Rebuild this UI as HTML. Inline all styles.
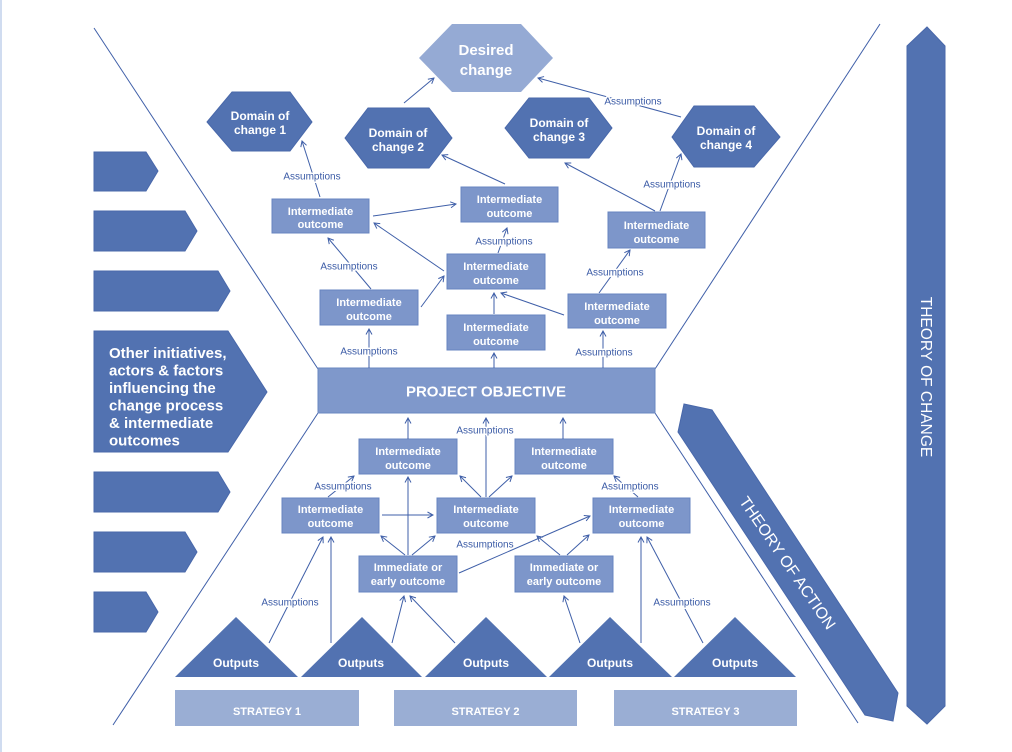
<!DOCTYPE html>
<html><head><meta charset="utf-8"><style>
html,body{margin:0;padding:0;background:#fff;}
svg{display:block;}
text{font-family:"Liberation Sans",Arial,sans-serif;}
.w{fill:#fff;font-weight:bold;text-anchor:middle;}
.as{fill:#3b5ba6;font-size:10px;text-anchor:middle;stroke:#fff;stroke-width:3px;paint-order:stroke;stroke-linejoin:round;}
.ln{stroke:#3f5fa8;stroke-width:1;fill:none;}
.bx{fill:#7d96ca;stroke:#6784c0;stroke-width:1;}
.dk{fill:#5272b1;stroke:#4968aa;stroke-width:1;}
</style></head><body>
<svg width="1012" height="752" viewBox="0 0 1012 752" xmlns="http://www.w3.org/2000/svg">
<defs>
<marker id="a" markerWidth="8" markerHeight="8" refX="7" refY="4" orient="auto" markerUnits="userSpaceOnUse"><path d="M1.5,1 L7,4 L1.5,7" fill="none" stroke="#3f5fa8" stroke-width="1"/></marker>
</defs>
<rect x="0" y="0" width="2" height="752" fill="#d0dcf0"/>

<!-- diagonal lines -->
<line class="ln" x1="94" y1="28" x2="318" y2="369"/>
<line class="ln" x1="318" y1="413" x2="113" y2="725"/>
<line class="ln" x1="880" y1="24" x2="655" y2="369"/>
<line class="ln" x1="655" y1="413" x2="858" y2="723"/>

<!-- left chevrons -->
<polygon class="dk" points="94,152 146,152 158,171 146,191 94,191"/>
<polygon class="dk" points="94,211 185,211 197,231 185,251 94,251"/>
<polygon class="dk" points="94,271 218,271 230,291 218,311 94,311"/>
<polygon class="dk" points="94,331 228,331 267,392 228,452 94,452"/>
<polygon class="dk" points="94,472 218,472 230,492 218,512 94,512"/>
<polygon class="dk" points="94,532 185,532 197,552 185,572 94,572"/>
<polygon class="dk" points="94,592 146,592 158,612 146,632 94,632"/>
<g fill="#fff" font-weight="bold" font-size="15">
<text x="109" y="358">Other initiatives,</text>
<text x="109" y="375.5">actors &amp; factors</text>
<text x="109" y="393">influencing  the</text>
<text x="109" y="410.5">change process</text>
<text x="109" y="428">&amp; intermediate</text>
<text x="109" y="445.5">outcomes</text>
</g>

<!-- Theory of change arrow -->
<polygon class="dk" points="907,46 927,27 945,46 945,706 927,724 907,706"/>
<text x="0" y="0" fill="#fff" font-size="15.5" text-anchor="middle" transform="translate(921,377) rotate(90)">THEORY OF CHANGE</text>

<!-- Theory of action band -->
<polygon class="dk" points="684,404 712,410 898,693 893,721 865,715 678,432"/>
<text x="0" y="0" fill="#fff" font-size="16" text-anchor="middle" transform="translate(783,566) rotate(55.5)">THEORY OF ACTION</text>

<!-- hexagons -->
<polygon points="419,58 452,24 521,24 553,58 521,92 452,92" fill="#95aad4"/>
<text class="w" x="486" y="55" font-size="15">Desired</text>
<text class="w" x="486" y="75" font-size="15">change</text>

<polygon class="dk" points="207,122 232,92 290,92 312,122 290,151 232,151"/>
<text class="w" x="260" y="120" font-size="12">Domain of</text>
<text class="w" x="260" y="134" font-size="12">change 1</text>

<polygon class="dk" points="345,138 368,108 429,108 452,138 429,168 368,168"/>
<text class="w" x="398" y="137" font-size="12">Domain of</text>
<text class="w" x="398" y="151" font-size="12">change 2</text>

<polygon class="dk" points="505,128 529,98 589,98 612,128 589,158 529,158"/>
<text class="w" x="559" y="127" font-size="12">Domain of</text>
<text class="w" x="559" y="141" font-size="12">change 3</text>

<polygon class="dk" points="672,137 694,106 754,106 780,137 754,167 694,167"/>
<text class="w" x="726" y="135" font-size="12">Domain of</text>
<text class="w" x="726" y="149" font-size="12">change 4</text>

<!-- upper boxes -->
<g font-size="11">
<rect class="bx" x="272" y="199" width="97" height="34"/>
<text class="w" x="320.5" y="215">Intermediate</text><text class="w" x="320.5" y="228">outcome</text>
<rect class="bx" x="461" y="187" width="97" height="35"/>
<text class="w" x="509.5" y="203">Intermediate</text><text class="w" x="509.5" y="217">outcome</text>
<rect class="bx" x="608" y="212" width="97" height="36"/>
<text class="w" x="656.5" y="229">Intermediate</text><text class="w" x="656.5" y="243">outcome</text>
<rect class="bx" x="447" y="254" width="98" height="35"/>
<text class="w" x="496" y="270">Intermediate</text><text class="w" x="496" y="284">outcome</text>
<rect class="bx" x="320" y="290" width="98" height="35"/>
<text class="w" x="369" y="306">Intermediate</text><text class="w" x="369" y="320">outcome</text>
<rect class="bx" x="447" y="315" width="98" height="35"/>
<text class="w" x="496" y="331">Intermediate</text><text class="w" x="496" y="345">outcome</text>
<rect class="bx" x="568" y="294" width="98" height="34"/>
<text class="w" x="617" y="310">Intermediate</text><text class="w" x="617" y="324">outcome</text>
</g>

<!-- project objective -->
<rect x="318" y="368" width="337" height="45" fill="#7f98cb" stroke="#6a87c2"/>
<text class="w" x="486" y="396.5" font-size="15">PROJECT OBJECTIVE</text>

<!-- lower boxes -->
<g font-size="11">
<rect class="bx" x="359" y="439" width="98" height="35"/>
<text class="w" x="408" y="455">Intermediate</text><text class="w" x="408" y="469">outcome</text>
<rect class="bx" x="515" y="439" width="98" height="35"/>
<text class="w" x="564" y="455">Intermediate</text><text class="w" x="564" y="469">outcome</text>
<rect class="bx" x="282" y="498" width="97" height="35"/>
<text class="w" x="330.5" y="513">Intermediate</text><text class="w" x="330.5" y="527">outcome</text>
<rect class="bx" x="437" y="498" width="98" height="35"/>
<text class="w" x="486" y="513">Intermediate</text><text class="w" x="486" y="527">outcome</text>
<rect class="bx" x="593" y="498" width="97" height="35"/>
<text class="w" x="641.5" y="513">Intermediate</text><text class="w" x="641.5" y="527">outcome</text>
<rect class="bx" x="359" y="556" width="98" height="36"/>
<text class="w" x="408" y="571" font-weight="normal">Immediate or</text><text class="w" x="408" y="585">early outcome</text>
<rect class="bx" x="515" y="556" width="98" height="36"/>
<text class="w" x="564" y="571">Immediate or</text><text class="w" x="564" y="585">early outcome</text>
</g>

<!-- outputs -->
<g fill="#5272b1">
<polygon points="175,677 236,617 298,677"/>
<polygon points="301,677 362,617 422,677"/>
<polygon points="425,677 486,617 547,677"/>
<polygon points="549,677 610,617 672,677"/>
<polygon points="674,677 735,617 796,677"/>
</g>
<g font-size="12">
<text class="w" x="236" y="667">Outputs</text>
<text class="w" x="361" y="667">Outputs</text>
<text class="w" x="486" y="667">Outputs</text>
<text class="w" x="610" y="667">Outputs</text>
<text class="w" x="735" y="667">Outputs</text>
</g>

<!-- strategies -->
<g fill="#9aaed4">
<rect x="175" y="690" width="184" height="36"/>
<rect x="394" y="690" width="183" height="36"/>
<rect x="614" y="690" width="183" height="36"/>
</g>
<g font-size="11">
<text class="w" x="267" y="715">STRATEGY 1</text>
<text class="w" x="485.5" y="715">STRATEGY 2</text>
<text class="w" x="705.5" y="715">STRATEGY 3</text>
</g>

<!-- connectors -->
<g class="ln" marker-end="url(#a)">
<line x1="404" y1="103" x2="434" y2="78"/>
<line x1="681" y1="117" x2="538" y2="78"/>
<line x1="320" y1="197" x2="302" y2="141"/>
<line x1="505" y1="184" x2="442" y2="155"/>
<line x1="655" y1="211" x2="565" y2="163"/>
<line x1="660" y1="211" x2="681" y2="154"/>
<line x1="373" y1="216" x2="456" y2="204"/>
<line x1="444" y1="271" x2="374" y2="223"/>
<line x1="421" y1="307" x2="444" y2="276"/>
<line x1="371" y1="289" x2="328" y2="238"/>
<line x1="498" y1="253" x2="507" y2="228"/>
<line x1="494" y1="314" x2="494" y2="293"/>
<line x1="564" y1="315" x2="501" y2="293"/>
<line x1="599" y1="293" x2="630" y2="250"/>
<line x1="369" y1="368" x2="369" y2="329"/>
<line x1="494" y1="368" x2="494" y2="353"/>
<line x1="603" y1="368" x2="603" y2="331"/>

<line x1="408" y1="439" x2="408" y2="418"/>
<line x1="486" y1="497" x2="486" y2="418"/>
<line x1="563" y1="439" x2="563" y2="418"/>
<line x1="328" y1="497" x2="354" y2="476"/>
<line x1="638" y1="497" x2="614" y2="476"/>
<line x1="382" y1="515" x2="433" y2="515"/>
<line x1="481" y1="497" x2="460" y2="476"/>
<line x1="489" y1="497" x2="512" y2="476"/>
<line x1="405" y1="555" x2="381" y2="536"/>
<line x1="408" y1="555" x2="408" y2="477"/>
<line x1="412" y1="555" x2="435" y2="536"/>
<line x1="459" y1="573" x2="590" y2="516"/>
<line x1="560" y1="555" x2="537" y2="536"/>
<line x1="567" y1="555" x2="589" y2="535"/>
<line x1="269" y1="643" x2="323" y2="537"/>
<line x1="331" y1="643" x2="331" y2="537"/>
<line x1="392" y1="643" x2="404" y2="596"/>
<line x1="455" y1="643" x2="410" y2="596"/>
<line x1="580" y1="643" x2="564" y2="596"/>
<line x1="641" y1="643" x2="641" y2="537"/>
<line x1="703" y1="643" x2="647" y2="537"/>
</g>

<!-- assumption labels -->
<text class="as" x="633" y="104.5">Assumptions</text>
<text class="as" x="312" y="179.5">Assumptions</text>
<text class="as" x="672" y="187.5">Assumptions</text>
<text class="as" x="349" y="269.5">Assumptions</text>
<text class="as" x="504" y="244.5">Assumptions</text>
<text class="as" x="615" y="275.5">Assumptions</text>
<text class="as" x="369" y="354.5">Assumptions</text>
<text class="as" x="604" y="355.5">Assumptions</text>
<text class="as" x="485" y="433.5">Assumptions</text>
<text class="as" x="343" y="489.5">Assumptions</text>
<text class="as" x="630" y="489.5">Assumptions</text>
<text class="as" x="485" y="547.5">Assumptions</text>
<text class="as" x="290" y="605.5">Assumptions</text>
<text class="as" x="682" y="605.5">Assumptions</text>
</svg>
</body></html>
